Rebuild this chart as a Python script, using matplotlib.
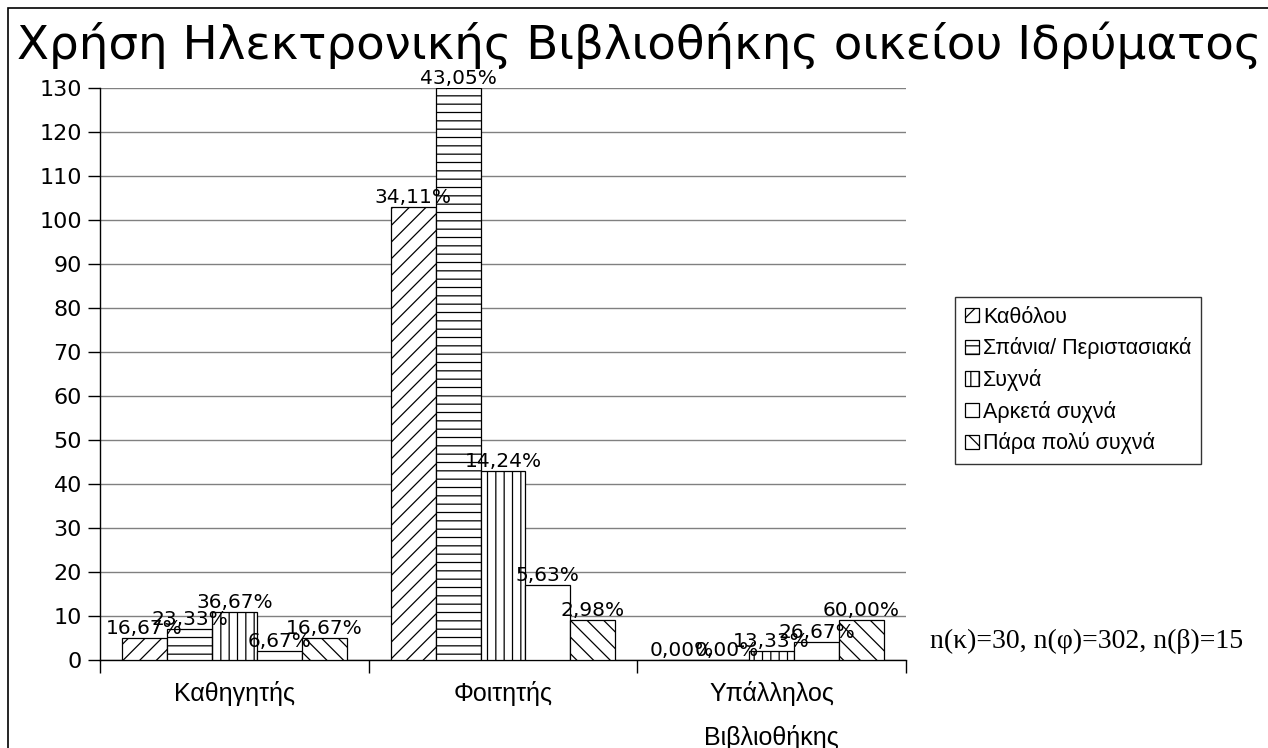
import numpy as np
import matplotlib.pyplot as plt
from matplotlib.patches import Rectangle

# Data
categories = ['Καθηγητής', 'Φοιτητής', 'Υπάλληλος\nΒιβλιοθήκης']
series = ['Καθόλου', 'Σπάνια/ Περιστασιακά', 'Συχνά', 'Αρκετά συχνά', 'Πάρα πολύ συχνά']
totals = [30, 302, 15]
values = [
    [5, 103, 0],    # Καθόλου
    [7, 130, 0],    # Σπάνια/ Περιστασιακά
    [11, 43, 2],    # Συχνά
    [2, 17, 4],     # Αρκετά συχνά
    [5, 9, 9],      # Πάρα πολύ συχνά
]
hatches = ['//', '--', '||', '', '\\\\']
yticks = list(range(0, 131, 10))
note = 'n(κ)=30, n(φ)=302, n(β)=15'

plt.rcParams['font.family'] = ['DejaVu Sans']
plt.rcParams['hatch.linewidth'] = 0.9

fig = plt.figure(figsize=(12.68, 7.48), dpi=100)
ax = fig.add_axes([100/1268, 1-660/748, 806/1268, 572/748])

x = np.arange(len(categories))
width = 0.167
for i, (name, vals) in enumerate(zip(series, values)):
    pos = x + (i - 2) * width
    bars = ax.bar(pos, vals, width, label=name, facecolor='white',
                  edgecolor='black', hatch=hatches[i], linewidth=0.9, zorder=3)
    for b, v, n in zip(bars, vals, totals):
        lbl = f'{v / n * 100:.2f}%'.replace('.', ',')
        ax.annotate(lbl, (b.get_x() + b.get_width() / 2, v), xytext=(0, 0),
                    textcoords='offset points', ha='center', va='bottom',
                    fontsize=14.5, zorder=5)

ax.set_xlim(-0.5, 2.5)
ax.set_ylim(0, 130)
ax.set_yticks(yticks)
ax.tick_params(axis='y', labelsize=16, length=9, width=1, direction='out', pad=4)
ax.yaxis.grid(True, color='#808080', linewidth=1, zorder=0)
ax.set_xticks(x)
ax.set_xticklabels(categories, fontsize=18, family='Liberation Sans',
                   linespacing=1.95)
ax.set_xticks([-0.5, 0.5, 1.5, 2.5], minor=True)
ax.tick_params(axis='x', which='major', length=0, pad=15)
ax.tick_params(axis='x', which='minor', length=9, width=1, direction='out')
for s in ['top', 'right']:
    ax.spines[s].set_visible(False)
for s in ['left', 'bottom']:
    ax.spines[s].set_linewidth(1)

leg = fig.legend(loc='upper left', bbox_to_anchor=(955/1268, 1-297/748),
                 prop={'family': 'Liberation Sans', 'size': 15.5},
                 frameon=True, fancybox=False, handlelength=0.65,
                 handleheight=0.65, handletextpad=0.2, borderpad=0.45,
                 labelspacing=0.45, borderaxespad=0)
leg.get_frame().set_edgecolor('black')
leg.get_frame().set_linewidth(1)

fig.text(0.5 + 5/1268, 1-45/748, 'Χρήση Ηλεκτρονικής Βιβλιοθήκης οικείου Ιδρύματος',
         ha='center', va='center', fontsize=33.7)
fig.text(930/1268, 1-641/748, note, family='Liberation Serif', fontsize=20,
         ha='left', va='center')

fig.patches.append(Rectangle((8/1268, -0.1), 1.2, 1.1 - 8/748,
                             transform=fig.transFigure, fill=False,
                             edgecolor='black', linewidth=1.2))

fig.savefig('out.png', dpi=100)
